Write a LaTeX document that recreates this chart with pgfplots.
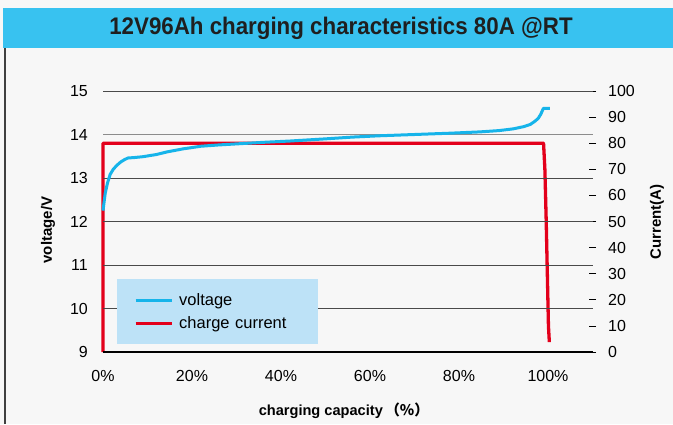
\documentclass[border=0pt]{standalone}
\usepackage{fontspec}
\setmainfont{Liberation Sans}
\newfontfamily\titlefont[FakeStretch=0.93]{Liberation Sans}
\newfontfamily\cjk{Noto Sans CJK SC}
\usepackage{pgfplots}
\pgfplotsset{compat=1.18}
\definecolor{bg}{HTML}{F7F7F7}
\definecolor{barblue}{HTML}{38C2F0}
\definecolor{vblue}{HTML}{16B4EA}
\definecolor{cred}{HTML}{E3001B}
\definecolor{legfill}{HTML}{BDE2F7}
\definecolor{gridgray}{HTML}{4A4A4A}
\begin{document}
\begin{tikzpicture}[x=1pt,y=1pt]
\useasboundingbox (0,0) rectangle (673,424);
\fill[bg] (0,0) rectangle (673,424);
\fill[barblue] (3,376) rectangle (673,416);
\draw[black!75, line width=1.5pt] (5,0) -- (5,376);
\node[font=\titlefont\bfseries\fontsize{24}{28}\selectfont, text=black!88] at (341,396) {12V96Ah charging characteristics 80A @RT};

% current axis (right)
\begin{axis}[at={(103pt,72pt)}, anchor=south west, scale only axis,
  width=489.5pt, height=261pt, xmin=0, xmax=110, ymin=0, ymax=100,
  axis x line=none, axis y line*=right, y axis line style={draw=none},
  ytick={0,10,...,100}, tick align=center, major tick length=7pt,
  ytick style={black, line width=0.8pt},
  /pgf/number format/assume math mode=true,
  yticklabel style={anchor=west, inner sep=0pt, xshift=12pt, font=\fontsize{16}{19}\selectfont},
  ylabel={Current(A)},
  ylabel style={at={(axis description cs:1.1318,0.498)}, anchor=center, font=\bfseries\fontsize{15}{18}\selectfont},
  clip=false]
\addplot[cred, line width=3.3pt, line join=round] coordinates {
(0,0) (0,80) (99.0,80) (99.3,70) (99.6,50) (99.85,30) (100.1,10) (100.3,3.8)};
\end{axis}

% voltage axis (left)
\begin{axis}[at={(103pt,72pt)}, anchor=south west, scale only axis,
  width=489.5pt, height=261pt, xmin=0, xmax=110, ymin=9, ymax=15,
  axis x line*=bottom, axis y line*=left,
  x axis line style={line width=2.5pt, black, -},
  y axis line style={draw=none},
  xtick={0,20,40,60,80,100}, xticklabels={0\%,20\%,40\%,60\%,80\%,100\%},
  ytick={9,...,15}, major tick length=0pt,
  ymajorgrids, grid style={gridgray, line width=0.9pt},
  extra y ticks={14}, extra y tick labels={},
  extra y tick style={grid style={black!45, line width=1.8pt}},
  /pgf/number format/assume math mode=true,
  xticklabel style={anchor=base, inner sep=0pt, yshift=-29pt, font=\fontsize{16}{19}\selectfont},
  yticklabel style={anchor=east, inner sep=0pt, xshift=-15pt, font=\fontsize{16}{19}\selectfont},
  xlabel={charging capacity\,{\cjk（\%）}},
  xlabel style={at={(axis description cs:0.492,-0.226)}, anchor=center, font=\bfseries\fontsize{14.6}{17}\selectfont},
  ylabel={voltage/V},
  ylabel style={at={(axis description cs:-0.1124,0.467)}, anchor=center, font=\bfseries\fontsize{15}{18}\selectfont},
  legend style={at={(axis description cs:0.0286,0.2797)}, anchor=north west,
    fill=legfill, draw=none, inner xsep=17pt, inner ysep=12pt,
    font=\fontsize{16.5}{19}\selectfont, row sep=5pt,
    nodes={inner sep=0pt, text height=14pt, text depth=4pt},
    /tikz/every odd column/.append style={column sep=6pt},
    /tikz/every even column/.append style={text width=122pt}},
  legend image code/.code={\draw[#1, line width=3pt] (0pt,0pt) -- (36pt,0pt);},
  legend cell align=left,
  clip=false]
\addplot[vblue, line width=3pt, line join=round] coordinates {
(0,12.25) (0.5,12.65) (1,12.88) (1.6,13.08) (2.3,13.2) (3.1,13.29) (4,13.37)
(4.8,13.42) (5.6,13.46) (7,13.47) (9,13.49) (12,13.54) (14.4,13.6) (18,13.67)
(22,13.73) (26,13.76) (31,13.79) (36,13.82) (42,13.85) (50,13.9) (56,13.94)
(62,13.97) (70,14.0) (78,14.03) (84.7,14.06) (89,14.09) (92.2,14.13) (94.5,14.18)
(96,14.23) (97,14.3) (97.8,14.37) (98.4,14.47) (98.95,14.6) (100.4,14.6)};
\addlegendimage{cred, line width=3pt}
\legend{voltage, charge current}
\end{axis}
\end{tikzpicture}
\end{document}
